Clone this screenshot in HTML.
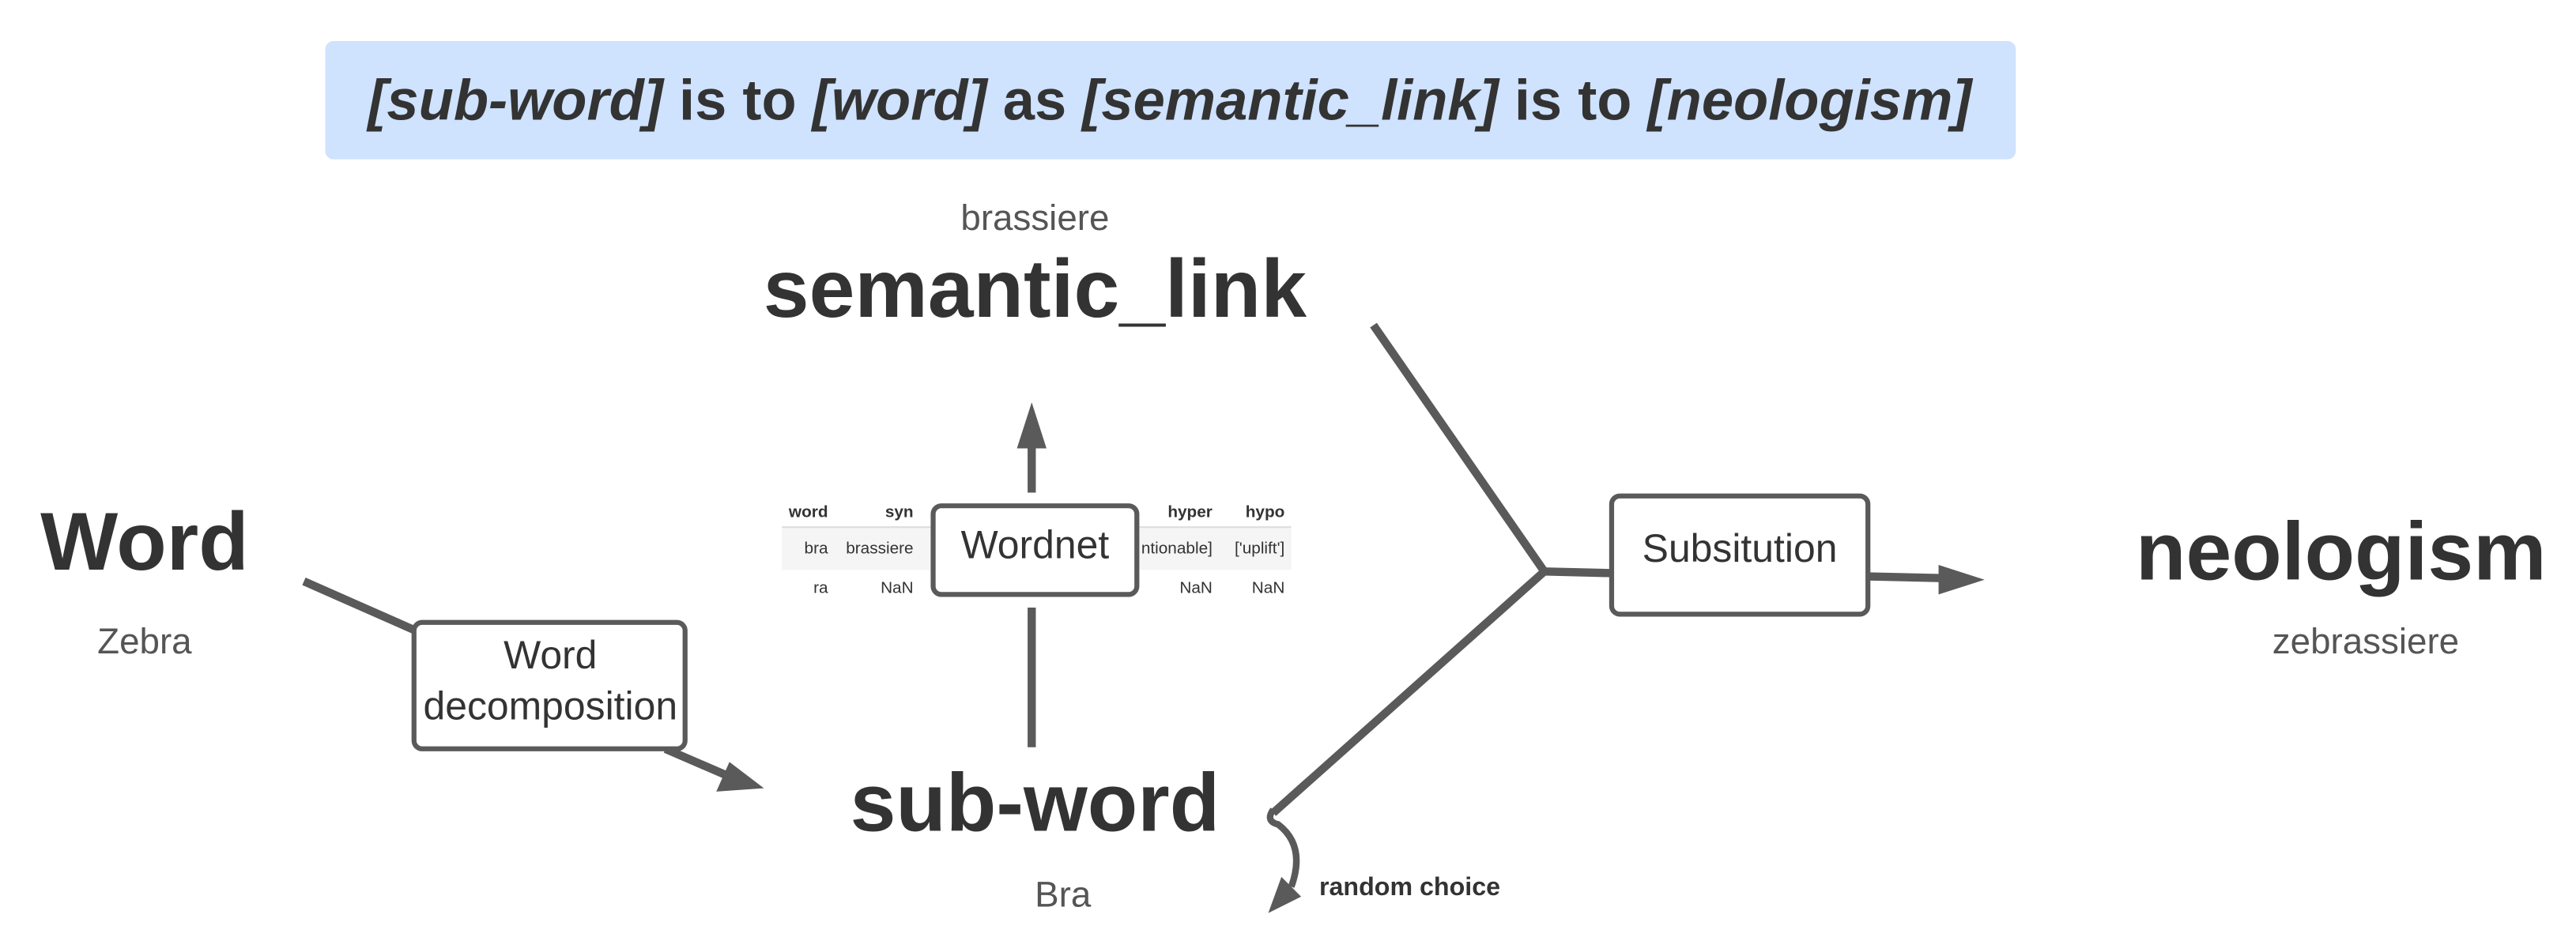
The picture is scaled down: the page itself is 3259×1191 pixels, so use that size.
<!DOCTYPE html>
<html><head><meta charset="utf-8"><style>
html,body{margin:0;padding:0;background:#fff;}
svg{display:block;}
text{font-family:"Liberation Sans",Arial,sans-serif;}
</style></head><body>
<svg width="3259" height="1191" viewBox="0 0 1568 573" xmlns="http://www.w3.org/2000/svg">
<rect x="198" y="25" width="1029" height="72" rx="5" fill="#cfe2fe"/>
<text x="712" y="73" text-anchor="middle" font-size="34.8" font-weight="bold" fill="#333"><tspan font-style="italic">[sub-word]</tspan> is to <tspan font-style="italic">[word]</tspan> as <tspan font-style="italic">[semantic_link]</tspan> is to <tspan font-style="italic">[neologism]</tspan></text>

<text x="630" y="140" text-anchor="middle" font-size="22" fill="#555">brassiere</text>
<text x="630" y="193" text-anchor="middle" font-size="50" font-weight="bold" fill="#333">semantic_link</text>

<!-- table -->
<rect x="476" y="321" width="310" height="26" fill="#f5f5f5"/>
<line x1="476" y1="321" x2="786" y2="321" stroke="#ddd" stroke-width="1"/>
<g font-size="10" fill="#333" text-anchor="end">
<text x="504" y="315" font-weight="bold" font-family="DejaVu Sans Mono">word</text>
<text x="556" y="315" font-weight="bold" font-family="DejaVu Sans Mono">syn</text>
<text x="738" y="315" font-weight="bold" font-family="DejaVu Sans Mono">hyper</text>
<text x="782" y="315" font-weight="bold" font-family="DejaVu Sans Mono">hypo</text>
<text x="504" y="337">bra</text><text x="556" y="337">brassiere</text>
<text x="738" y="337">ntionable]</text><text x="782" y="337">['uplift']</text>
<text x="504" y="361">ra</text><text x="556" y="361">NaN</text>
<text x="738" y="361">NaN</text><text x="782" y="361">NaN</text>
</g>

<g stroke="#5a5a5a" stroke-width="5" fill="none">
<line x1="628" y1="455" x2="628" y2="370"/>
<line x1="628" y1="300" x2="628" y2="270"/>
<line x1="185" y1="354" x2="253" y2="384"/>
<line x1="405" y1="456" x2="442" y2="472"/>
<polyline points="836,198 940,348 775,495"/>
<line x1="940" y1="348" x2="981" y2="349"/>
<line x1="1137" y1="351" x2="1182" y2="352"/>
<path d="M775,493 Q770,500 778,502 Q795,515 786,540" stroke-width="4"/>
</g>
<g fill="#5a5a5a">
<polygon points="628,245 619,273 637,273"/>
<polygon points="465,480 436,482 444,464"/>
<polygon points="1208,353 1180,344 1180,362"/>
<polygon points="772,556 780,534 792,546"/>
</g>

<rect x="568" y="308" width="124" height="54" rx="5" fill="#fff" stroke="#5a5a5a" stroke-width="3"/>
<text x="630" y="340" text-anchor="middle" font-size="24" fill="#333">Wordnet</text>

<text x="88" y="347" text-anchor="middle" font-size="50" font-weight="bold" fill="#333">Word</text>
<text x="88" y="398" text-anchor="middle" font-size="22" fill="#555">Zebra</text>

<rect x="252" y="379" width="165" height="77" rx="5" fill="#fff" stroke="#5a5a5a" stroke-width="3"/>
<text x="335" y="407" text-anchor="middle" font-size="24" fill="#333">Word</text>
<text x="335" y="438" text-anchor="middle" font-size="24" fill="#333">decomposition</text>

<text x="630" y="506" text-anchor="middle" font-size="50" font-weight="bold" fill="#333">sub-word</text>
<text x="647" y="552" text-anchor="middle" font-size="22" fill="#555">Bra</text>
<text x="803" y="545" font-size="15.5" font-weight="bold" fill="#333">random choice</text>

<rect x="981" y="302" width="156" height="72" rx="5" fill="#fff" stroke="#5a5a5a" stroke-width="3"/>
<text x="1059" y="342" text-anchor="middle" font-size="24" fill="#333">Subsitution</text>

<text x="1425" y="353" text-anchor="middle" font-size="50" font-weight="bold" fill="#333">neologism</text>
<text x="1440" y="398" text-anchor="middle" font-size="22" fill="#555">zebrassiere</text>
</svg>
</body></html>
